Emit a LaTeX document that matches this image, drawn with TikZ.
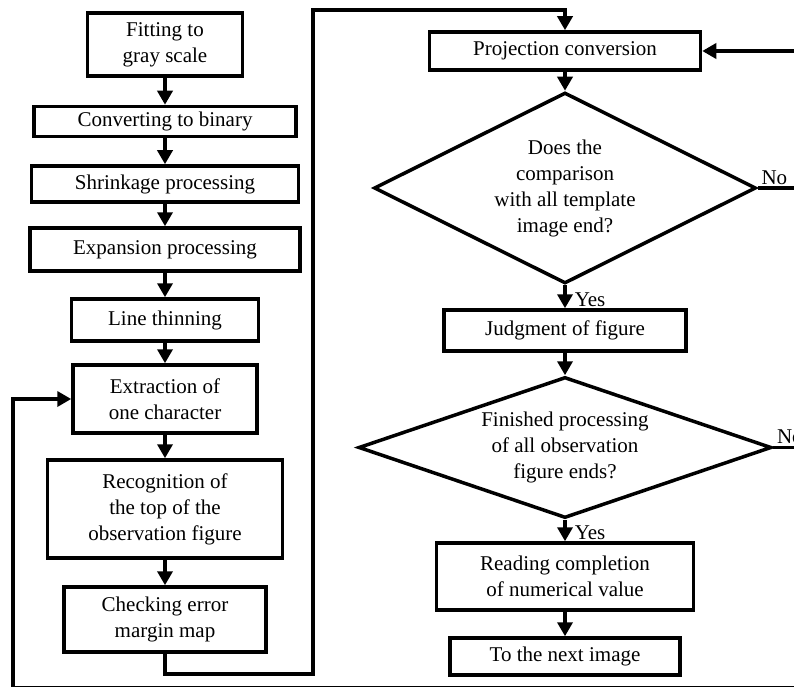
\documentclass[tikz,border=0pt]{standalone}
\usepackage{fontspec}
\setmainfont{Liberation Serif}
\usetikzlibrary{arrows.meta,shapes.geometric}

\begin{document}
\begin{tikzpicture}[x=1pt, y=-1pt, line width=3.5pt,
		box/.style={draw, align=center, inner sep=0pt},
		decision/.style={draw, diamond, align=center, inner sep=0pt},
		flow/.style={-{Triangle[width=15pt,length=14pt]}},
		font=\fontsize{21}{26}\selectfont]
		\useasboundingbox (0,0) rectangle (794,687);
		\clip (0,0) rectangle (794,687);
		% left column
		\node [box, minimum width=155pt, minimum height=63pt] (fitting) at (165,44.5) {Fitting to\\gray scale};
		\node [box, minimum width=262pt, minimum height=30pt] (binary) at (165,121.5) {Converting to binary};
		\node [box, minimum width=267pt, minimum height=36pt] (shrink) at (165,184) {Shrinkage processing};
		\node [box, minimum width=270pt, minimum height=43pt] (expand) at (165,249.5) {Expansion processing};
		\node [box, minimum width=187pt, minimum height=42pt] (thinning) at (165,320) {Line thinning};
		\node [box, minimum width=184pt, minimum height=68pt] (extract) at (165,399) {Extraction of\\one character};
		\node [box, minimum width=235pt, minimum height=98pt] (recog) at (165,509) {Recognition of\\the top of the\\observation figure};
		\node [box, minimum width=202pt, minimum height=65pt] (check) at (165,619.5) {Checking error\\margin map};
		% right column
		\node [box, minimum width=271pt, minimum height=38pt] (proj) at (565,51) {Projection conversion};
		\node [decision, aspect=2, minimum width=382pt, minimum height=191pt] (compare) at (565,188) {Does the\\comparison\\with all template\\image end?};
		\node [box, minimum width=242pt, minimum height=41pt] (judge) at (565,330.5) {Judgment of figure};
		\node [decision, aspect=2.9, minimum width=413pt, minimum height=141pt] (finished) at (565,447.5) {Finished processing\\of all observation\\figure ends?};
		\node [box, minimum width=257pt, minimum height=67pt] (reading) at (565,576.5) {Reading completion\\of numerical value};
		\node [box, minimum width=230pt, minimum height=37pt] (nextimg) at (565,656.5) {To the next image};
		\coordinate (topbend) at (313,10);
		\coordinate (noproj) at (800,51);
		\coordinate (nocompare) at (800,188);
		\coordinate (nofinished) at (800,447.5);
		\coordinate (loopback) at (800,687.5);
		% arrows
		\draw [flow] (fitting) -- (binary);
		\draw [flow] (binary) -- (shrink);
		\draw [flow] (shrink) -- (expand);
		\draw [flow] (expand) -- (thinning);
		\draw [flow] (thinning) -- (extract);
		\draw [flow] (extract) -- (recog);
		\draw [flow] (recog) -- (check);
		\draw [flow] (check.south) -- ++(0,20) -| (topbend) -| (proj.north);
		\draw [flow] (proj) -- (compare);
		\draw [flow] (compare) -- node[right, inner sep=8pt, yshift=-3pt]{Yes} (judge);
		\draw [flow] (judge) -- (finished);
		\draw [flow] (finished) -- node[right, inner sep=8pt, yshift=-2pt]{Yes} (reading);
		\draw [flow] (reading) -- (nextimg);
		\draw [flow] (noproj) -- (proj);
		\draw (compare.east) node[above right, inner sep=2pt]{No} -- (nocompare);
		\draw (finished.east) node[above right, inner sep=2pt]{No} -- (nofinished);
		\draw [flow] (loopback) -| (13,399) -- (extract.west);
	\end{tikzpicture}
\end{document}
